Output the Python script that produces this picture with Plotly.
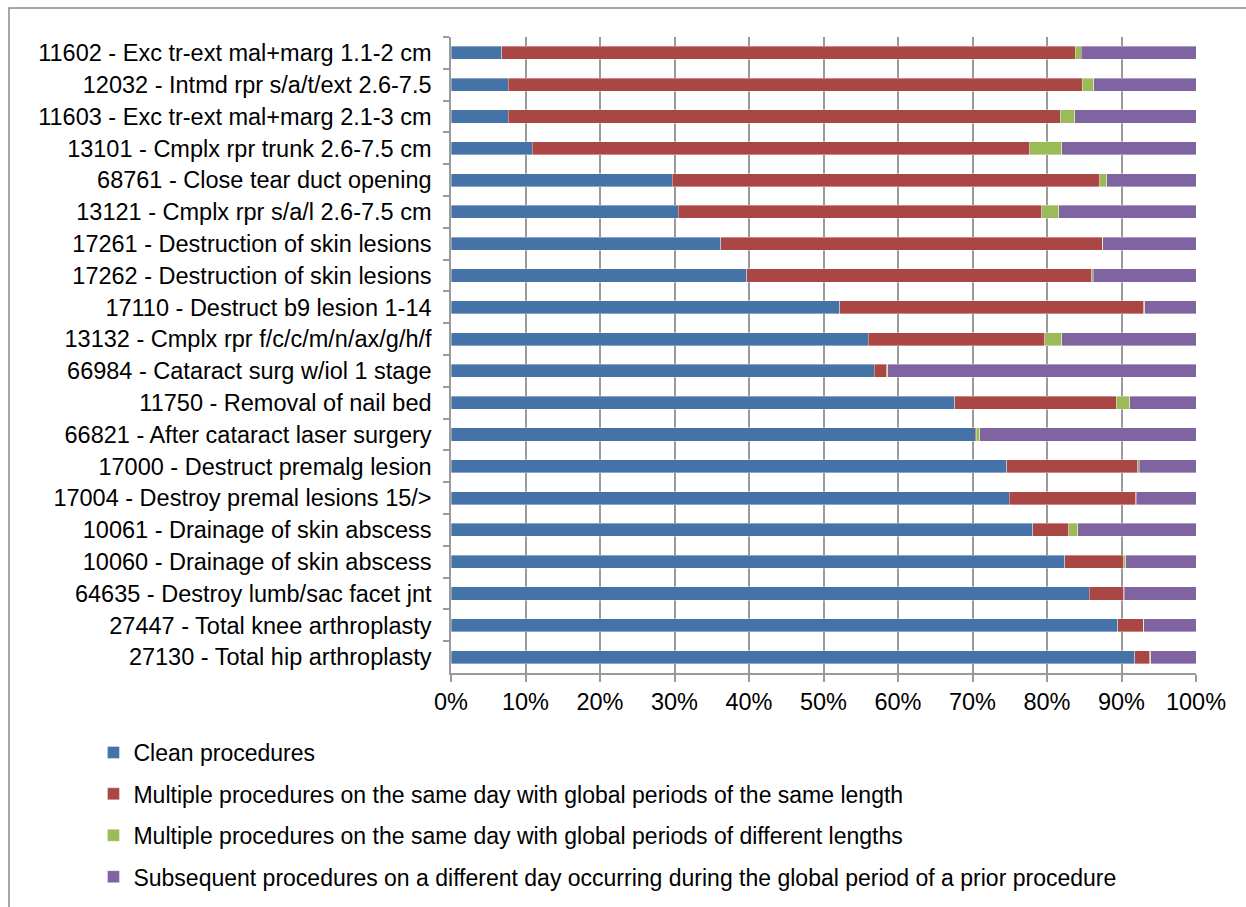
import plotly.graph_objects as go

# Procedure codes, listed from top to bottom of the chart
procedures = [
    "11602 - Exc tr-ext mal+marg 1.1-2 cm",
    "12032 - Intmd rpr s/a/t/ext 2.6-7.5",
    "11603 - Exc tr-ext mal+marg 2.1-3 cm",
    "13101 - Cmplx rpr trunk 2.6-7.5 cm",
    "68761 - Close tear duct opening",
    "13121 - Cmplx rpr s/a/l 2.6-7.5 cm",
    "17261 - Destruction of skin lesions",
    "17262 - Destruction of skin lesions",
    "17110 - Destruct b9 lesion 1-14",
    "13132 - Cmplx rpr f/c/c/m/n/ax/g/h/f",
    "66984 - Cataract surg w/iol 1 stage",
    "11750 - Removal of nail bed",
    "66821 - After cataract laser surgery",
    "17000 - Destruct premalg lesion",
    "17004 - Destroy premal lesions 15/>",
    "10061 - Drainage of skin abscess",
    "10060 - Drainage of skin abscess",
    "64635 - Destroy lumb/sac facet jnt",
    "27447 - Total knee arthroplasty",
    "27130 - Total hip arthroplasty",
]

# Share of procedures (%) in each category
clean = [6.8, 7.7, 7.7, 10.9, 29.7, 30.5, 36.2, 39.7, 52.2, 56.0,
         56.8, 67.6, 70.4, 74.6, 74.9, 78.1, 82.4, 85.7, 89.5, 91.8]
same_length = [77.0, 77.0, 74.1, 66.8, 57.4, 48.8, 51.2, 46.3, 40.8, 23.7,
               1.7, 21.7, 0.1, 17.6, 17.0, 4.8, 7.9, 4.6, 3.4, 2.0]
diff_length = [0.8, 1.6, 1.9, 4.3, 0.9, 2.3, 0.1, 0.2, 0.1, 2.3,
               0.1, 1.8, 0.5, 0.2, 0.1, 1.2, 0.3, 0.1, 0.1, 0.1]
subsequent = [15.4, 13.7, 16.3, 18.0, 12.0, 18.4, 12.5, 13.8, 6.9, 18.0,
              41.4, 8.9, 29.0, 7.6, 8.0, 15.9, 9.4, 9.6, 7.0, 6.1]

series = [
    ("Clean procedures", clean, "#4572A7"),
    ("Multiple procedures on the same day with global periods of the same length", same_length, "#AA4643"),
    ("Multiple procedures on the same day with global periods of different lengths", diff_length, "#9BBB59"),
    ("Subsequent procedures on a different day occurring during the global period of a prior procedure", subsequent, "#8064A2"),
]

x_ticks = list(range(0, 101, 10))

fig = go.Figure()
for i, (name, vals, color) in enumerate(series):
    fig.add_trace(go.Bar(
        y=procedures, x=vals, name=name, orientation="h",
        legendgroup=f"g{i}",
        marker=dict(color=color, line=dict(color="rgba(255,255,255,0.6)", width=0.6)),
    ))

W, H = 1246, 907
L, R, T, B = 451, 50, 37, 234
FONT = "Liberation Sans, Arial, sans-serif"

fig.update_layout(
    width=W, height=H,
    barmode="stack", bargap=0.59,
    plot_bgcolor="white", paper_bgcolor="white",
    margin=dict(l=L, r=R, t=T, b=B, pad=0, autoexpand=False),
    font=dict(family=FONT, size=23.5, color="black"),
    showlegend=True,
    legend=dict(
        orientation="v", traceorder="grouped", tracegroupgap=8.5,
        xref="container", yref="container",
        x=0.075, xanchor="left", y=(H - 731) / H, yanchor="top",
        font=dict(size=23), itemwidth=30, bgcolor="rgba(0,0,0,0)",
    ),
    xaxis=dict(
        range=[0, 100], tickvals=x_ticks, ticktext=[f"{v}%" for v in x_ticks],
        showgrid=True, gridcolor="#9A9A9A", gridwidth=1.5,
        showline=True, linecolor="#9A9A9A", linewidth=1.5,
        ticks="outside", ticklen=7, tickcolor="#9A9A9A", tickwidth=1.5,
        ticklabelstandoff=0,
        zeroline=False, fixedrange=True,
    ),
    yaxis=dict(
        categoryorder="array", categoryarray=procedures, autorange="reversed",
        showline=True, linecolor="#9A9A9A", linewidth=1.5,
        ticks="outside", ticklen=6, tickcolor="#9A9A9A", tickwidth=1.5,
        tickson="boundaries", ticklabelstandoff=13, showgrid=False,
    ),
    shapes=[dict(
        type="rect", xref="paper", yref="paper",
        x0=(9 - L) / (W - L - R), x1=(W + 20 - L) / (W - L - R),
        y0=-(H + 20 - (H - B)) / (H - T - B), y1=1 + (T - 8) / (H - T - B),
        line=dict(color="#8A8A8A", width=1.5), fillcolor="rgba(0,0,0,0)", layer="below",
    )],
)

fig.write_html("out.html")
